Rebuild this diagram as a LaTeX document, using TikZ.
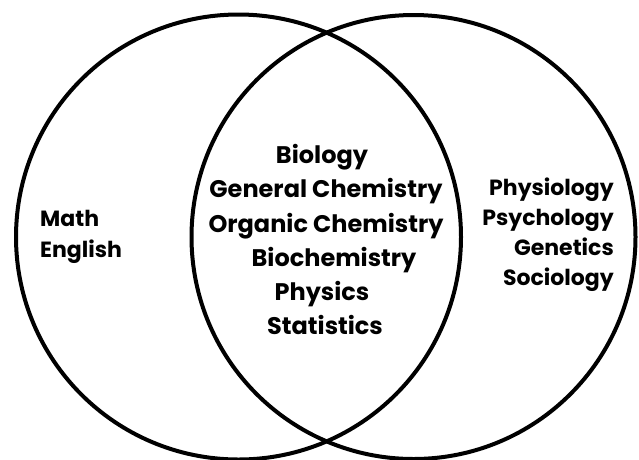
\documentclass[tikz,border=0pt]{standalone}
\usepackage{fontspec}
\setmainfont{Poppins}[UprightFont=* Bold,Ligatures=NoCommon]
\begin{document}
\begin{tikzpicture}[x=1pt,y=-1pt,
  ring/.style={draw=black,line width=4pt},
  mid/.style={font=\fontsize{24}{24}\selectfont,inner sep=0pt,anchor=base},
  side/.style={font=\fontsize{22}{22}\selectfont,inner sep=0pt,anchor=base west},
  rside/.style={font=\fontsize{22}{22}\selectfont,inner sep=0pt,anchor=base east}]
\useasboundingbox[fill=white] (0,0) rectangle (639,459);
\draw[ring] (238.5,237) circle[radius=222.5];
\draw[ring] (413.5,237) circle[radius=222];
\node[mid] (bio) at (322,163) {Biology};
\node[mid] (gen) at (326,197) {General Chemistry};
\node[mid] (org) at (326,232) {Organic Chemistry};
\node[mid] (bch) at (334,266) {Biochemistry};
\node[mid] (phy) at (322,300) {Physics};
\node[mid] (sta) at (325,334) {Statistics};
\node[side] (math) at (40,226) {Math};
\node[side] (eng) at (40,257) {English};
\node[rside] (phs) at (614,195) {Physiology};
\node[rside] (psy) at (614,225) {Psychology};
\node[rside] (gene) at (614,255) {Genetics};
\node[rside] (soc) at (614,285) {Sociology};
\end{tikzpicture}
\end{document}
